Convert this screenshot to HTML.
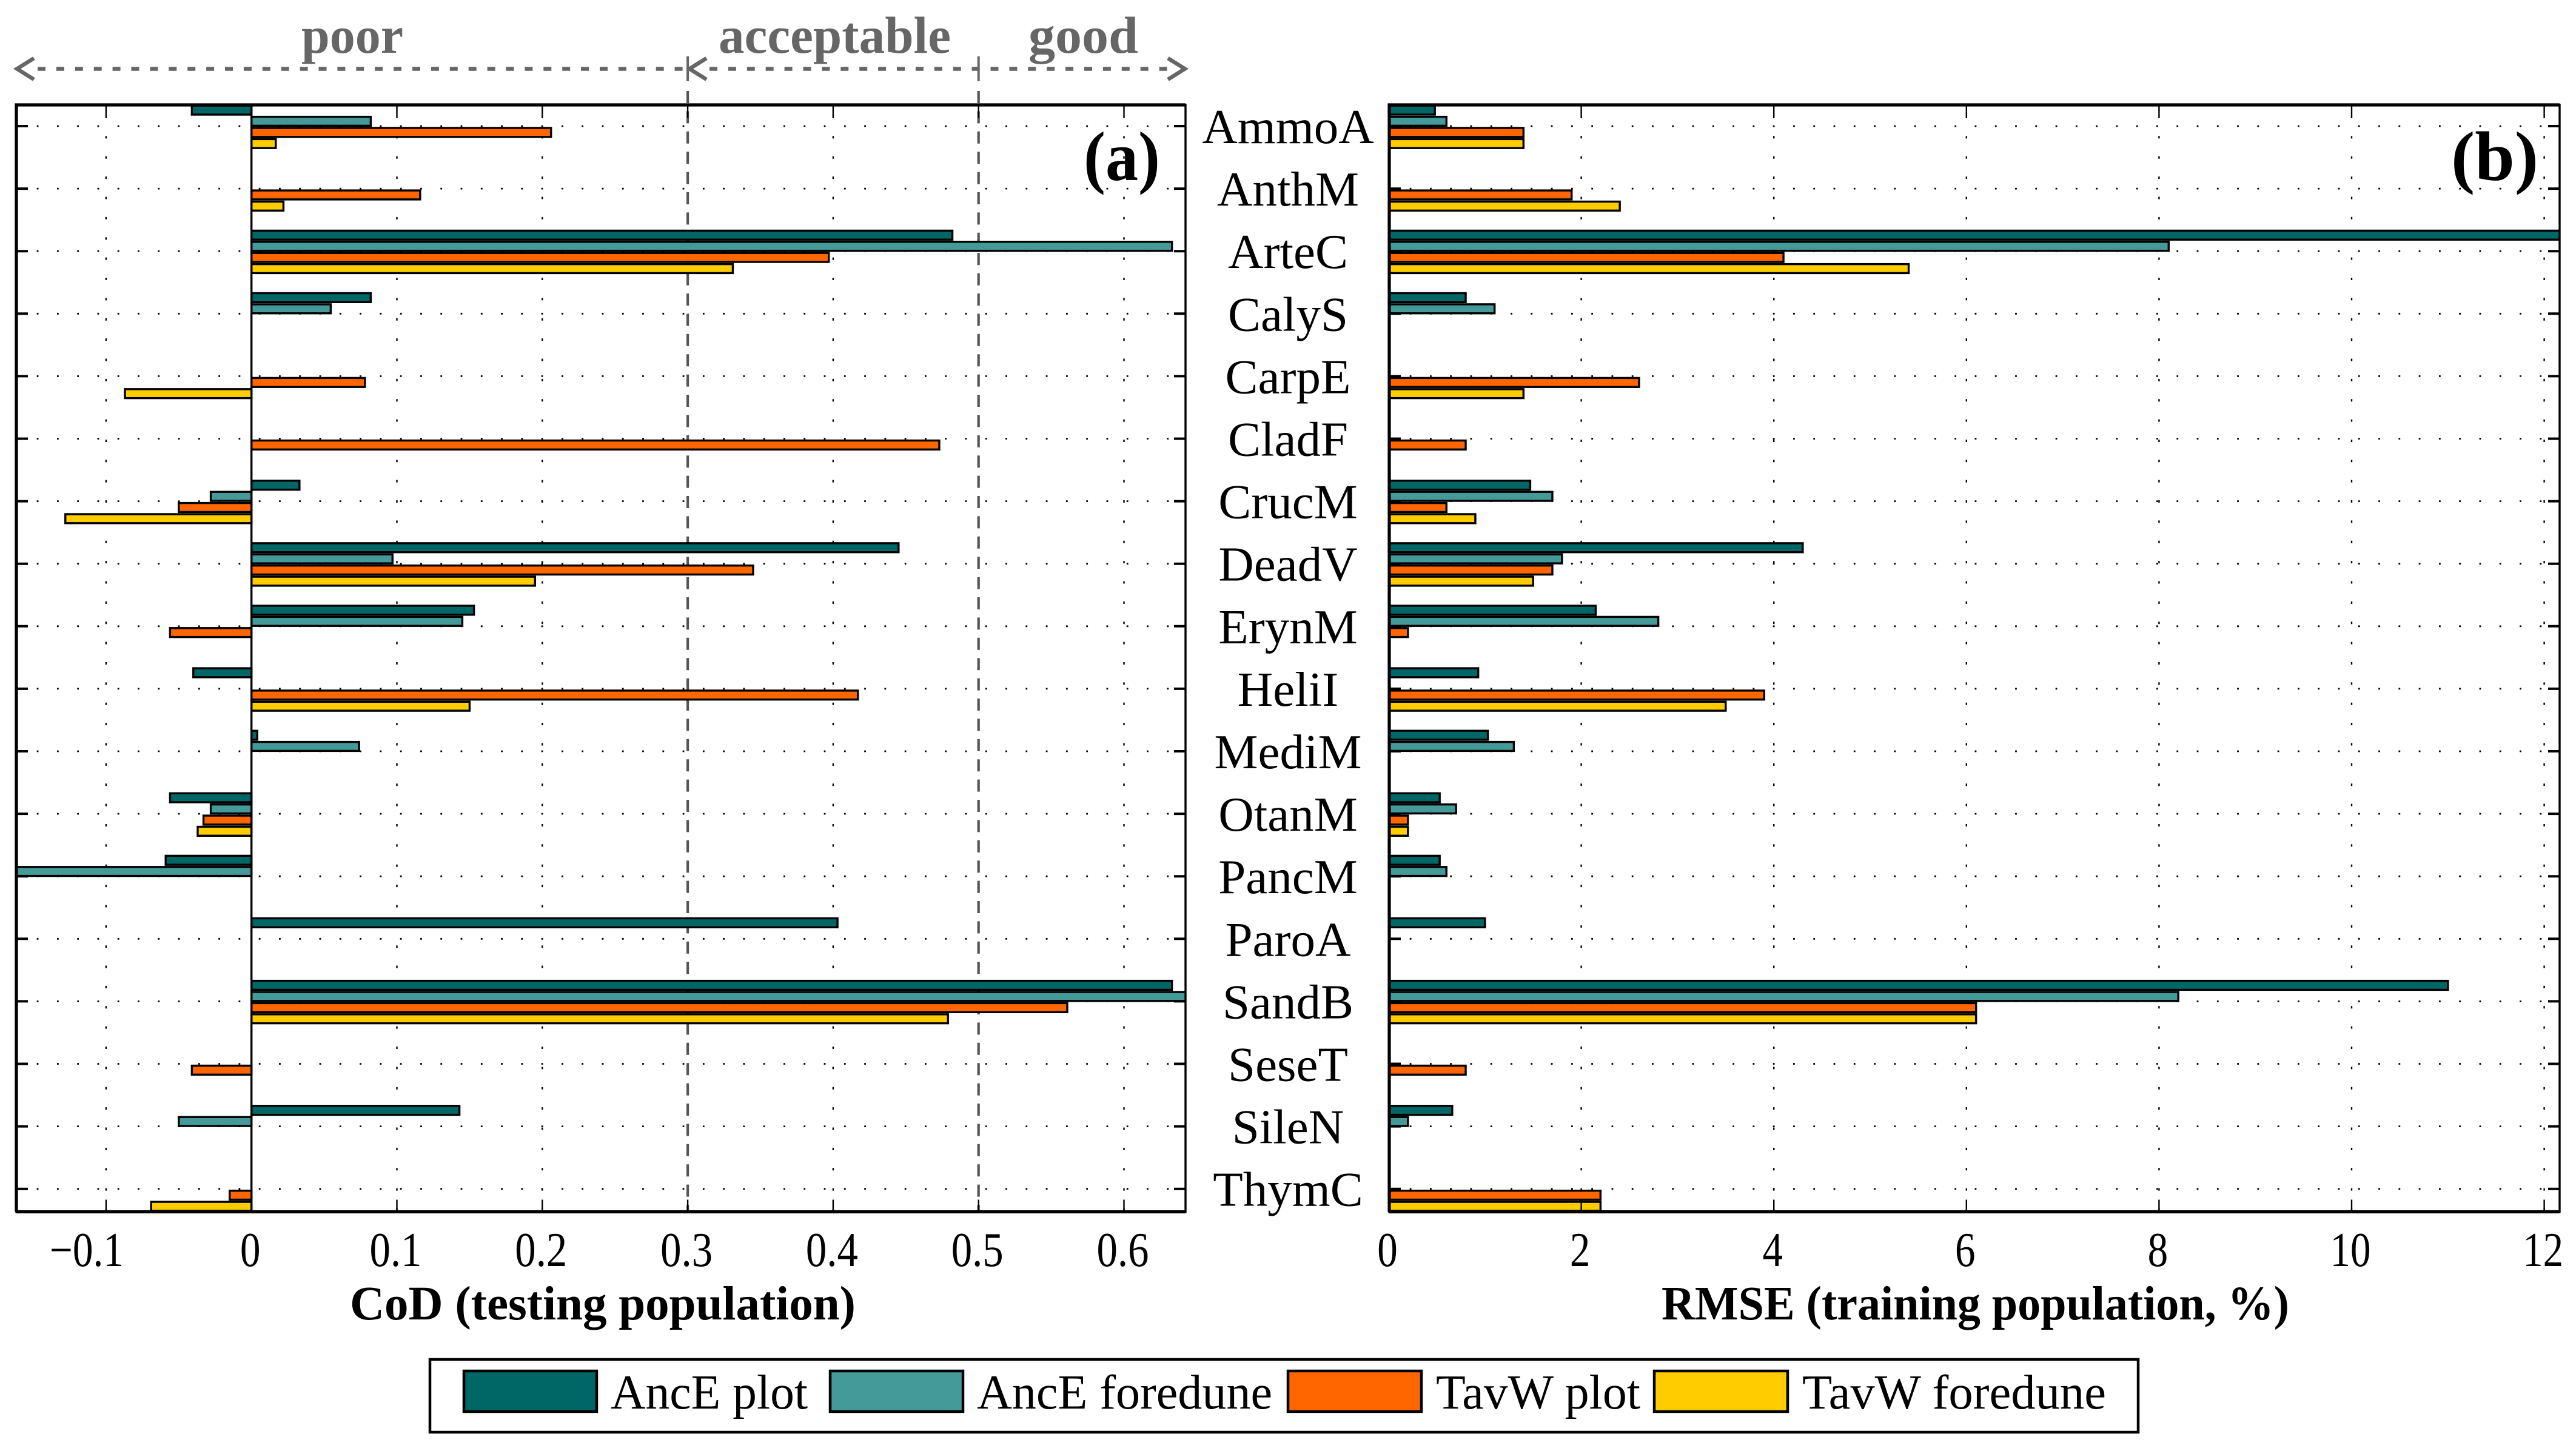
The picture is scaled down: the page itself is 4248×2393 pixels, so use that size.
<!DOCTYPE html>
<html lang="en">
<head>
<meta charset="utf-8">
<title>CoD and RMSE by plant species</title>
<style>
html,body{margin:0;padding:0;background:#fff;}
svg{display:block;}
text{font-family:"Liberation Serif",serif;fill:#000;}
.cat{font-size:81px;text-anchor:middle;}
.tick{font-size:80px;text-anchor:middle;}
.title{font-size:79px;font-weight:bold;}
.panel{font-size:116px;font-weight:bold;}
.zone{font-size:86px;font-weight:bold;fill:#666;}
.leg{font-size:80px;}
</style>
</head>
<body>
<svg id="chart" xmlns="http://www.w3.org/2000/svg" width="4248" height="2393" viewBox="0 0 4248 2393">
  <rect width="4248" height="2393" fill="#fff"/>
  <defs>
    <clipPath id="clipA"><rect x="27" y="173" width="1928" height="1825.5"/></clipPath>
    <clipPath id="clipB"><rect x="2290" y="173" width="1931" height="1825.5"/></clipPath>
  </defs>
  <g id="panelA"></g>
  <g id="panelB"></g>
  <g id="labels"></g>

  <g>
    <g fill="none" stroke="#666" stroke-width="6.5">
      <line x1="56" y1="113.5" x2="1132" y2="113.5" stroke-dasharray="13 17.9" stroke-dashoffset="-6"/>
      <line x1="1170" y1="113.5" x2="1925" y2="113.5" stroke-dasharray="13 17.9"/>
      <polyline points="56,96 28,113.5 56,131"/>
      <polyline points="1165,96 1137,113.5 1165,131"/>
      <polyline points="1926,96 1954,113.5 1926,131"/>
    </g>
    <text class="zone" x="497" y="87" textLength="168" lengthAdjust="spacingAndGlyphs">poor</text>
    <text class="zone" x="1185" y="87" textLength="383" lengthAdjust="spacingAndGlyphs">acceptable</text>
    <text class="zone" x="1696" y="87" textLength="181" lengthAdjust="spacingAndGlyphs">good</text>
  </g>

  <text class="panel" x="1787" y="297" textLength="126" lengthAdjust="spacingAndGlyphs">(a)</text>
  <text class="panel" x="4042" y="297" textLength="144" lengthAdjust="spacingAndGlyphs">(b)</text>

  <text class="title" x="577" y="2176" textLength="834" lengthAdjust="spacingAndGlyphs">CoD (testing population)</text>
  <text class="title" x="2740" y="2176" textLength="1035" lengthAdjust="spacingAndGlyphs">RMSE (training population, %)</text>

  <g>
    <rect x="709" y="2242" width="2817" height="120" fill="#fff" stroke="#000" stroke-width="4.5"/>
    <g stroke="#000" stroke-width="4.5">
      <rect x="765" y="2261" width="219" height="67" fill="#006666"/>
      <rect x="1369" y="2261" width="219" height="67" fill="#449999"/>
      <rect x="2124" y="2261" width="220" height="67" fill="#ff6600"/>
      <rect x="2728" y="2261" width="220" height="67" fill="#ffcc00"/>
    </g>
    <text class="leg" x="1007" y="2323" textLength="325" lengthAdjust="spacingAndGlyphs">AncE plot</text>
    <text class="leg" x="1611" y="2323" textLength="487" lengthAdjust="spacingAndGlyphs">AncE foredune</text>
    <text class="leg" x="2368" y="2323" textLength="337" lengthAdjust="spacingAndGlyphs">TavW plot</text>
    <text class="leg" x="2972" y="2323" textLength="501" lengthAdjust="spacingAndGlyphs">TavW foredune</text>
  </g>
</svg>
<script>
const categories = ["AmmoA","AnthM","ArteC","CalyS","CarpE","CladF","CrucM","DeadV","ErynM","HeliI","MediM","OtanM","PancM","ParoA","SandB","SeseT","SileN","ThymC"];
const seriesNames = ["AncE plot","AncE foredune","TavW plot","TavW foredune"];
const seriesColors = ["#006666","#449999","#ff6600","#ffcc00"];

const codAncePlot     = [-0.041,null,0.482,0.082,null,null,0.033,0.445,0.153,-0.040,0.004,-0.056,-0.059,0.403,0.633,null,0.143,null];
const codAnceForedune = [0.082,null,0.633,0.0545,null,null,-0.028,0.097,0.145,null,0.074,-0.028,-0.170,null,0.650,null,-0.050,null];
const codTavwPlot     = [0.206,0.116,0.397,null,0.078,0.473,-0.050,0.345,-0.056,0.417,null,-0.033,null,null,0.561,-0.041,null,-0.015];
const codTavwForedune = [0.0167,0.022,0.331,null,-0.087,null,-0.128,0.195,null,0.150,null,-0.037,null,null,0.479,null,null,-0.069];

const rmseAncePlot     = [0.48,null,12.3,0.8,null,null,1.47,4.3,2.15,0.93,1.03,0.53,0.53,1.0,11.0,null,0.66,null];
const rmseAnceForedune = [0.6,null,8.1,1.1,null,null,1.7,1.8,2.8,null,1.3,0.7,0.6,null,8.2,null,0.2,null];
const rmseTavwPlot     = [1.4,1.9,4.1,null,2.6,0.8,0.6,1.7,0.2,3.9,null,0.2,null,null,6.1,0.8,null,2.2];
const rmseTavwForedune = [1.4,2.4,5.4,null,1.4,null,0.9,1.5,null,3.5,null,0.2,null,null,6.1,null,null,2.2];

const codTicks = [-0.1,0,0.1,0.2,0.3,0.4,0.5,0.6];
const codTickLabels = ["\u22120.1","0","0.1","0.2","0.3","0.4","0.5","0.6"];
const rmseTicks = [0,2,4,6,8,10,12];
const rmseTickLabels = ["0","2","4","6","8","10","12"];
const codThresholds = [0.3,0.5];

const NS = "http://www.w3.org/2000/svg";
const TOP = 173, BOTTOM = 1998.5;
function yCat(i){ return 208 + i * 103.1; }
function xCod(v){ return 414.7 + v * 2398; }
function xRmse(v){ return 2290 + v * 158.8; }

function make(tag, parent, attrs){
  const el = document.createElementNS(NS, tag);
  for (const k in attrs) el.setAttribute(k, attrs[k]);
  parent.appendChild(el);
  return el;
}

function tickLabelWidth(s){
  let w = 0;
  for (const c of s){ w += c === "." ? 19 : c === "\u2212" ? 36 : 33.5; }
  return w;
}

function drawPanel(parent, opt){
  const {scale, left, right, ticks, tickLabels, series, clip, prefix, zero} = opt;

  // dotted grid
  const grid = make("g", parent, {stroke:"#000","stroke-width":2.8,"stroke-dasharray":"2.8 30.48",fill:"none"});
  
  
  categories.forEach((c,i)=>{
    const g = make("line", grid, {x1:left+33.7,x2:right-4,y1:yCat(i),y2:yCat(i)});
    
    
  });
  ticks.forEach((t,i)=>{
    const g = make("line", grid, {x1:scale(t),x2:scale(t),y1:BOTTOM-1.5,y2:TOP+30,"stroke-dasharray":"4 29.37","stroke-width":2.4});
    
    
  });

  // threshold lines (panel a only)
  (opt.thresholds || []).forEach(t=>{
    const l1 = make("line", parent, {x1:scale(t),x2:scale(t),y1:93,y2:134,stroke:"#666","stroke-width":4});
    
    
    const l2 = make("line", parent, {x1:scale(t),x2:scale(t),y1:150,y2:BOTTOM,stroke:"#555","stroke-width":4.2,"stroke-dasharray":"20 13.4"});
    
    
  });

  // bars
  const barsGroup = make("g", parent, {"clip-path":"url(#"+clip+")"});
  
  
  series.forEach((values,s)=>{
    values.forEach((v,i)=>{
      if (v === null) return;
      const x0 = scale(0), x1 = scale(v);
      const cy = yCat(i) + 1.2 + (s - 1.5) * 18.4;
      const bar = make("rect", barsGroup, {
        x:Math.min(x0,x1), y:cy-7.4, width:Math.abs(x1-x0), height:14.8,
        fill:seriesColors[s], stroke:"#000", "stroke-width":3.4
      });
      
      
    });
  });

  // zero line
  if (zero){
    const z = make("line", parent, {x1:scale(0),x2:scale(0),y1:TOP,y2:BOTTOM,stroke:"#000","stroke-width":3.4});
    
    
  }

  // ticks
  const tg = make("g", parent, {stroke:"#000"});
  
  
  ticks.forEach((t,i)=>{
    const a = make("line", tg, {x1:scale(t),x2:scale(t),y1:TOP,y2:TOP+22,"stroke-width":2.4});
    
    
    const b = make("line", tg, {x1:scale(t),x2:scale(t),y1:BOTTOM,y2:BOTTOM-20,"stroke-width":2.4});
    
    
    const label = tickLabels[i];
    const isNeg = label.charAt(0) === "\u2212";
    const w = tickLabelWidth(label);
    const txt = make("text", parent, {x:scale(t)-(isNeg?32:2),y:2088,class:"tick",textLength:w,lengthAdjust:"spacingAndGlyphs"});
    
    
    txt.textContent = label;
  });
  categories.forEach((c,i)=>{
    const a = make("line", tg, {x1:left,x2:left+19,y1:yCat(i),y2:yCat(i),"stroke-width":4});
    
    
    const b = make("line", tg, {x1:right,x2:right-19,y1:yCat(i),y2:yCat(i),"stroke-width":4});
    
    
  });

  // frame
  const f1 = make("rect", parent, {x:left,y:TOP,width:right-left,height:BOTTOM-TOP,fill:"none",stroke:"#000","stroke-width":3.4});
  
  
  const f2 = make("path", parent, {d:`M${left} ${BOTTOM}V${TOP}H${right}M${left} ${BOTTOM}H${right}`,fill:"none",stroke:"#000","stroke-width":5.2});
  
  
}

drawPanel(document.getElementById("panelA"), {
  scale:xCod, left:27, right:1955, ticks:codTicks, tickLabels:codTickLabels,
  series:[codAncePlot,codAnceForedune,codTavwPlot,codTavwForedune],
  clip:"clipA", prefix:"cod", zero:true, thresholds:codThresholds
});
drawPanel(document.getElementById("panelB"), {
  scale:xRmse, left:2291, right:4221, ticks:rmseTicks, tickLabels:rmseTickLabels,
  series:[rmseAncePlot,rmseAnceForedune,rmseTavwPlot,rmseTavwForedune],
  clip:"clipB", prefix:"rmse", zero:false
});

const labelGroup = document.getElementById("labels");
categories.forEach((c,i)=>{
  const t = make("text", labelGroup, {x:2124,y:yCat(i)+28,class:"cat"});
  
  
  t.textContent = c;
});
</script>
</body>
</html>
